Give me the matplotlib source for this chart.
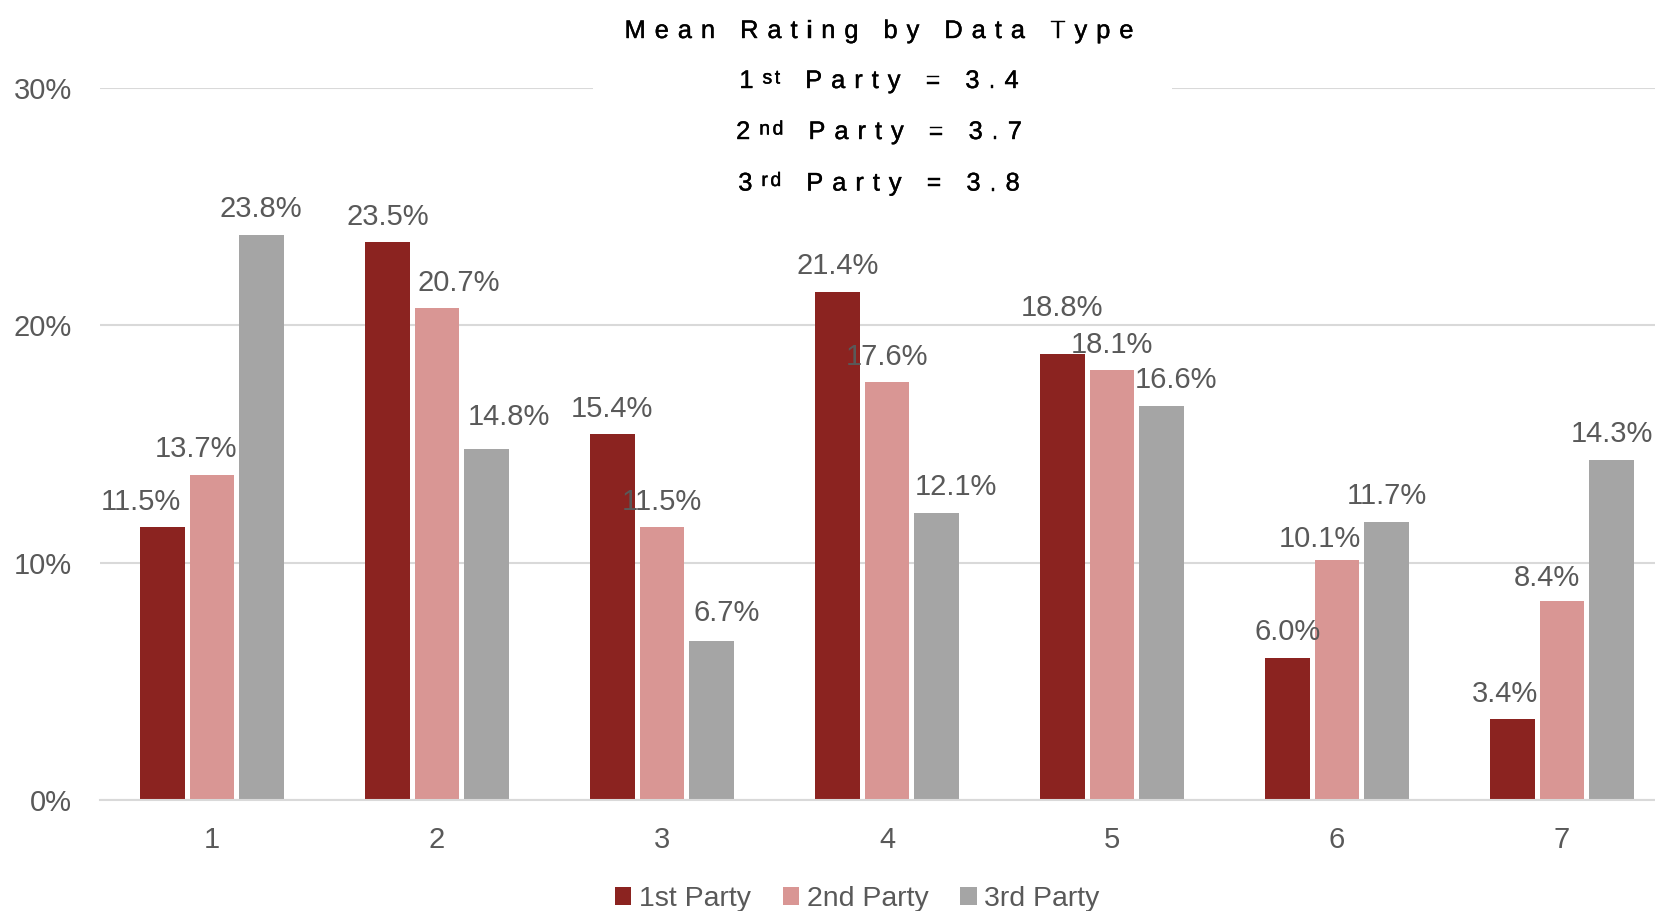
import matplotlib
matplotlib.use('Agg')
import matplotlib.pyplot as plt
import matplotlib.patheffects as pe
import numpy as np
from matplotlib import font_manager
from matplotlib.ft2font import FT2Font
from matplotlib.patches import Rectangle

# ---------------- data ----------------
categories = ['1', '2', '3', '4', '5', '6', '7']
series_names = ['1st Party', '2nd Party', '3rd Party']
first_party = [11.5, 23.5, 15.4, 21.4, 18.8, 6.0, 3.4]
second_party = [13.7, 20.7, 11.5, 17.6, 18.1, 10.1, 8.4]
third_party = [23.8, 14.8, 6.7, 12.1, 16.6, 11.7, 14.3]
y_ticks = [0, 10, 20, 30]
title_main = 'Mean Rating by Data Type'
mean_ordinals = [('1', 'st'), ('2', 'nd'), ('3', 'rd')]
mean_values = [3.4, 3.7, 3.8]

# ---------------- style ----------------
colors = ['#8B2320', '#D99694', '#A5A5A5']
# manual label nudges (full-size px), as in the source chart
label_dx = [
    [-22, 0, 0, 0, 0, 0, -7],
    [-16, 22, 0, 0, 0, -17, -15],
    [-1, 22, 15, 19, 14, 0, 0],
]
label_dy = [
    [0, 0, 0, 0, 20, 0, 0],
    [0, 0, 0, 0, 0, -4, -3],
    [0, 6, 2, 0, 0, 1, 1],
]
W, H = 1655, 911
plt.rcParams['font.family'] = ['Liberation Sans', 'DejaVu Sans']
grey_txt = '#595959'

fig = plt.figure(figsize=(W / 100, H / 100), dpi=100)
ax_left, ax_right, ax_bottom, ax_top = 99.5, 1674.5, 800.0, 87.6
ax = fig.add_axes([ax_left / W, 1 - ax_bottom / H, (ax_right - ax_left) / W,
                   (ax_bottom - ax_top) / H])

x = np.arange(len(categories))
bar_w = 0.197
step = 0.2205
all_series = [first_party, second_party, third_party]
for i, (vals, col, name) in enumerate(zip(all_series, colors, series_names)):
    bars = ax.bar(x + (i - 1) * step, vals, bar_w, color=col, label=name, zorder=2)
    for j, (b, v) in enumerate(zip(bars, vals)):
        ax.annotate(f'{v:.1f}%', (b.get_x() + b.get_width() / 2, v),
                    xytext=(label_dx[i][j] * 0.72, (25.4 + label_dy[i][j]) * 0.72),
                    textcoords='offset points',
                    ha='center', va='center', fontsize=21, color=grey_txt,
                    annotation_clip=False, zorder=3)

ax.set_xlim(-0.5, len(categories) - 0.5)
ax.set_ylim(0, 30)
ax.set_xticks(x)
ax.set_xticklabels(categories)
ax.set_yticks(y_ticks)
ax.set_yticklabels([f'{t}%' for t in y_ticks])
ax.tick_params(axis='both', length=0, labelsize=21, labelcolor=grey_txt)
ax.tick_params(axis='x', pad=18.5)
ax.tick_params(axis='y', pad=20)
ax.set_axisbelow(True)
ax.yaxis.grid(True, color='#D9D9D9', lw=1.5)
for s in ['top', 'right', 'left']:
    ax.spines[s].set_visible(False)
ax.spines['bottom'].set_color('#D9D9D9')
ax.spines['bottom'].set_linewidth(1.5)

# white box behind title (masks top gridline)
rect = Rectangle((593 / W, 1 - 200 / H), (1172 - 593) / W, 200 / H,
                 transform=fig.transFigure, facecolor='white', edgecolor='none',
                 zorder=1.5, clip_on=False)
ax.add_artist(rect)

# ---------------- tracked title ----------------
fpath = font_manager.findfont(font_manager.FontProperties(family='Liberation Sans'))
ft = FT2Font(fpath)
bold_fx = [pe.withStroke(linewidth=0.3, foreground='black')]


def advance(ch, size):
    ft.set_size(size, 100)
    g = ft.load_char(ord(ch))
    return g.linearHoriAdvance / 65536.0


def tracked_line(segments, cx, baseline):
    chars = []
    for text, size, rise, trk in segments:
        for ch in text:
            chars.append((ch, size, rise, trk))
    widths = [advance(c, s) + (t if k < len(chars) - 1 else 0)
              for k, (c, s, r, t) in enumerate(chars)]
    total = sum(widths)
    xx = cx - total / 2
    for (c, s, r, t), w in zip(chars, widths):
        if c != ' ':
            fig.text(xx / W, 1 - (baseline - r) / H, c, fontsize=s,
                     family='Liberation Sans', ha='left', va='baseline',
                     color='black', path_effects=bold_fx)
        xx += w


main_size, sup_size, sup_rise, track, sup_track = 18.3, 14, 4.5, 9.0, 2.5
cx = 879
tracked_line([(title_main, main_size, 0, track)], cx, 38)
baselines = [88, 139, 190.5]
for (num, suf), val, bl in zip(mean_ordinals, mean_values, baselines):
    tracked_line([(num, main_size, 0, track),
                  (suf[0], sup_size, sup_rise, sup_track),
                  (suf[1], sup_size, sup_rise, track),
                  (f' Party = {val:.1f}', main_size, 0, track)], cx, bl)

# ---------------- legend ----------------
ax.legend(loc='center', bbox_to_anchor=(0.518, 0.013), bbox_transform=fig.transFigure,
          ncol=3, frameon=False, fontsize=20.5, handlelength=0.57, handleheight=0.57,
          handletextpad=0.27, columnspacing=1.12, labelcolor=grey_txt, borderpad=0)

fig.savefig('out.png', dpi=100)
